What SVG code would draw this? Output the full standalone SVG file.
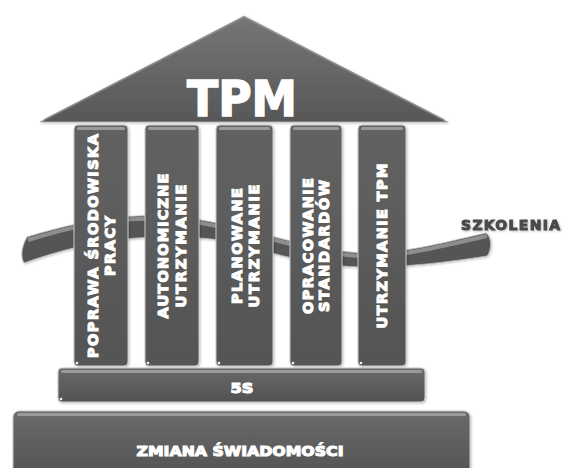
<svg xmlns="http://www.w3.org/2000/svg" width="563" height="468" viewBox="0 0 563 468">
<defs>
<linearGradient id="roofG" x1="0" y1="0" x2="0" y2="1">
<stop offset="0" stop-color="#767676"/><stop offset="1" stop-color="#575757"/>
</linearGradient>
<linearGradient id="pilG" x1="0" y1="0" x2="0" y2="1">
<stop offset="0" stop-color="#626262"/><stop offset="1" stop-color="#545454"/>
</linearGradient>
<linearGradient id="barG" x1="0" y1="0" x2="0" y2="1">
<stop offset="0" stop-color="#6a6a6a"/><stop offset="1" stop-color="#525252"/>
</linearGradient>
<filter id="glow" x="-10%" y="-10%" width="120%" height="120%">
<feDropShadow dx="1" dy="1" stdDeviation="1.2" flood-color="#000" flood-opacity="0.25"/>
</filter>
</defs>
<style>
.box{fill:url(#pilG);stroke:#c9c9c9;stroke-width:1}
.bar{fill:url(#barG);stroke:#c9c9c9;stroke-width:1}
.hl{fill:#9a9a9a}
.dot{fill:#f2f2f2}
.pt{font-family:"DejaVu Sans",sans-serif;font-weight:bold;font-size:14.5px;fill:#fff;stroke:#fff;stroke-width:1.1;text-anchor:middle}
.big{font-family:"DejaVu Sans",sans-serif;font-weight:bold;fill:#fff;stroke:#fff;stroke-width:1.5;text-anchor:middle}
</style>

<g id="szkolenia">
<path d="M27,237 C60,227 100,217 137,216 C175,215 200,219 230,226 C270,235 320,251 360,253 C400,255 450,241 486,233 C492,237 492,250 487,256 C450,262 400,268 360,267 C320,266 280,256 240,244 C210,237 180,236 137,238 C100,240 60,250 24,263 C20,256 22,246 27,237 Z" fill="#545454" stroke="#bdbdbd" stroke-width="0.8" filter="url(#glow)"/>
<path d="M28,240 C60,230 100,220 137,219 C175,218 200,222 230,229 C270,238 320,254 360,256 C400,258 450,244 487,236" fill="none" stroke="#8e8e8e" stroke-width="4"/>
<text x="461" y="230" font-family="DejaVu Sans, sans-serif" font-weight="bold" font-size="14" fill="#4a4a4a" stroke="#4a4a4a" stroke-width="1" textLength="99" lengthAdjust="spacing" filter="url(#glow)">SZKOLENIA</text>
</g>

<g id="roof">
<path d="M40,122 L244,16 L448,122 Z" fill="url(#roofG)" stroke="#bdbdbd" stroke-width="0.8" filter="url(#glow)"/>
<path d="M44,120 L244,17 L444,120" fill="none" stroke="#8a8a8a" stroke-width="1.5"/>
<text class="big" x="242" y="116" font-size="49" textLength="110" lengthAdjust="spacingAndGlyphs">TPM</text>
</g>

<g id="p1">
<rect class="box" x="74" y="125" width="54" height="241" rx="4" filter="url(#glow)"/>
<rect class="hl" x="77" y="127" width="48" height="3" rx="1.5"/>
<circle class="dot" cx="77" cy="363" r="1.3"/>
<g transform="translate(101,246) rotate(-90)">
<text class="pt" x="0" y="-3" textLength="224" lengthAdjust="spacing">POPRAWA ŚRODOWISKA</text>
<text class="pt" x="0" y="14" textLength="60" lengthAdjust="spacing">PRACY</text>
</g>
</g>

<g id="p2">
<rect class="box" x="145" y="125" width="54" height="241" rx="4" filter="url(#glow)"/>
<rect class="hl" x="148" y="127" width="48" height="3" rx="1.5"/>
<circle class="dot" cx="148" cy="363" r="1.3"/>
<g transform="translate(172,246) rotate(-90)">
<text class="pt" x="0" y="-4" textLength="145" lengthAdjust="spacing">AUTONOMICZNE</text>
<text class="pt" x="0" y="14" textLength="123" lengthAdjust="spacing">UTRZYMANIE</text>
</g>
</g>

<g id="p3">
<rect class="box" x="216" y="125" width="57" height="241" rx="4" filter="url(#glow)"/>
<rect class="hl" x="219" y="127" width="51" height="3" rx="1.5"/>
<circle class="dot" cx="219" cy="363" r="1.3"/>
<g transform="translate(244.5,246) rotate(-90)">
<text class="pt" x="0" y="-2.5" textLength="116" lengthAdjust="spacing">PLANOWANE</text>
<text class="pt" x="0" y="14.5" textLength="123" lengthAdjust="spacing">UTRZYMANIE</text>
</g>
</g>

<g id="p4">
<rect class="box" x="290" y="125" width="52" height="241" rx="4" filter="url(#glow)"/>
<rect class="hl" x="293" y="127" width="46" height="3" rx="1.5"/>
<circle class="dot" cx="293" cy="363" r="1.3"/>
<g transform="translate(316,246) rotate(-90)">
<text class="pt" x="0" y="-3" textLength="136" lengthAdjust="spacing">OPRACOWANIE</text>
<text class="pt" x="0" y="13" textLength="132" lengthAdjust="spacing">STANDARDÓW</text>
</g>
</g>

<g id="p5">
<rect class="box" x="358" y="125" width="48" height="241" rx="4" filter="url(#glow)"/>
<rect class="hl" x="361" y="127" width="42" height="3" rx="1.5"/>
<circle class="dot" cx="361" cy="363" r="1.3"/>
<g transform="translate(382,246) rotate(-90)">
<text class="pt" x="0" y="5" textLength="165" lengthAdjust="spacing">UTRZYMANIE TPM</text>
</g>
</g>

<g id="s5">
<rect class="bar" x="58" y="368" width="367" height="34" rx="4" filter="url(#glow)"/>
<rect class="hl" x="61" y="370" width="361" height="3" rx="1.5"/>
<circle class="dot" cx="61" cy="399" r="1.3"/>
<text class="pt" x="242" y="393" textLength="23" lengthAdjust="spacingAndGlyphs">5S</text>
</g>

<g id="zmiana">
<rect class="bar" x="13" y="411" width="457" height="70" rx="6" filter="url(#glow)"/>
<rect class="hl" x="17" y="413" width="449" height="3" rx="1.5"/>
<text class="pt" x="240" y="456" font-size="16" textLength="207" lengthAdjust="spacingAndGlyphs">ZMIANA ŚWIADOMOŚCI</text>
</g>
</svg>
